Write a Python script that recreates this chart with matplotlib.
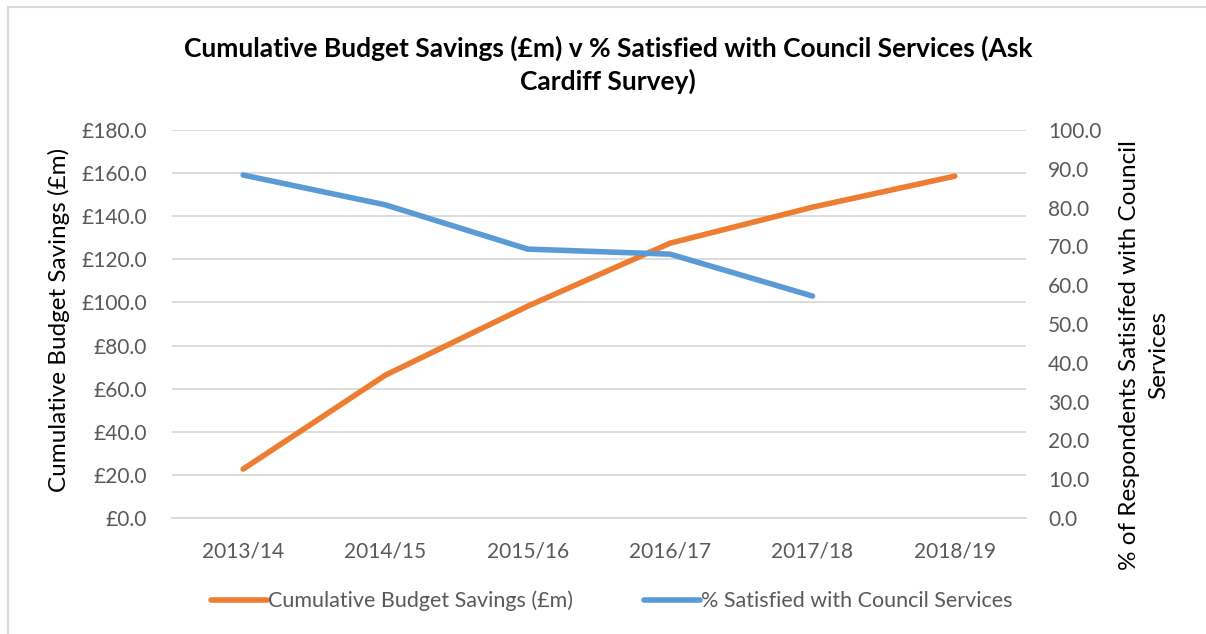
import matplotlib.pyplot as plt
from matplotlib.patches import Rectangle

plt.rcParams['font.family'] = ['Lato', 'DejaVu Sans']

years = ["2013/14", "2014/15", "2015/16", "2016/17", "2017/18", "2018/19"]
savings = [22.7, 66.3, 98.3, 127.5, 144.2, 158.6]
sat_years = ["2013/14", "2014/15", "2015/16", "2016/17", "2017/18"]
satisfied = [88.4, 80.7, 69.3, 68.0, 57.2]

orange = "#ED7D31"
blue = "#5B9BD5"
grey = "#595959"

fig = plt.figure(figsize=(12.06, 6.34), dpi=100)
fig.patches.append(Rectangle((8 / 1206, -0.1), 1.2, (634 - 7) / 634 + 0.1,
                             transform=fig.transFigure, fill=False,
                             edgecolor="#D9D9D9", lw=1.5))

ax = fig.add_axes([172 / 1206, 1 - 518 / 634, (1026 - 172) / 1206, (518 - 130) / 634])
ax2 = ax.twinx()

x = list(range(len(years)))
ax.plot(x, savings, color=orange, lw=4, solid_capstyle="round",
        label="Cumulative Budget Savings (£m)", zorder=3)
ax2.plot(x[:len(sat_years)], satisfied, color=blue, lw=4, solid_capstyle="round",
         label="% Satisfied with Council Services", zorder=3)

ax.set_xlim(-0.5, len(years) - 0.5)
ax.set_ylim(0, 180)
ax2.set_ylim(0, 100)
ax.set_yticks(range(0, 181, 20))
ax.set_yticklabels([f"£{v:.1f}" for v in range(0, 181, 20)])
ax2.set_yticks(range(0, 101, 10))
ax2.set_yticklabels([f"{v:.1f}" for v in range(0, 101, 10)])
ax.set_xticks(x)
ax.set_xticklabels(years)

ax.grid(axis="y", color="#D9D9D9", lw=1.3)
ax.set_axisbelow(True)
for a in (ax, ax2):
    for s in a.spines.values():
        s.set_visible(False)
    a.tick_params(length=0, labelsize=15, labelcolor=grey)
ax.tick_params(axis="y", pad=18)
ax2.tick_params(axis="y", pad=16)
ax.tick_params(axis="x", pad=17)
ax.spines["bottom"].set_visible(True)
ax.spines["bottom"].set_color("#D9D9D9")
ax.spines["bottom"].set_linewidth(1.3)

ax.set_ylabel("Cumulative Budget Savings (£m)", fontsize=17.5, color="black")
ax.yaxis.set_label_coords(-0.12, 0.51)
ax2.set_ylabel("% of Respondents Satisifed with Council\nServices", fontsize=17.5,
               color="black", rotation=90, linespacing=1.5)
ax2.yaxis.set_label_coords(1.109, 0.42)

fig.text(608 / 1206, 1 - 65 / 634,
         "Cumulative Budget Savings (£m) v % Satisfied with Council Services (Ask\nCardiff Survey)",
         ha="center", va="center", fontsize=19, fontweight="bold", linespacing=1.35)

h1, l1 = ax.get_legend_handles_labels()
h2, l2 = ax2.get_legend_handles_labels()
fig.legend(h1 + h2, l1 + l2, loc="center", bbox_to_anchor=(612 / 1206, 1 - 601 / 634),
           ncol=2, frameon=False, fontsize=15.5, handlelength=2.6, handletextpad=0.05,
           columnspacing=3.3, labelcolor=grey)

fig.savefig("out.png", dpi=100)
